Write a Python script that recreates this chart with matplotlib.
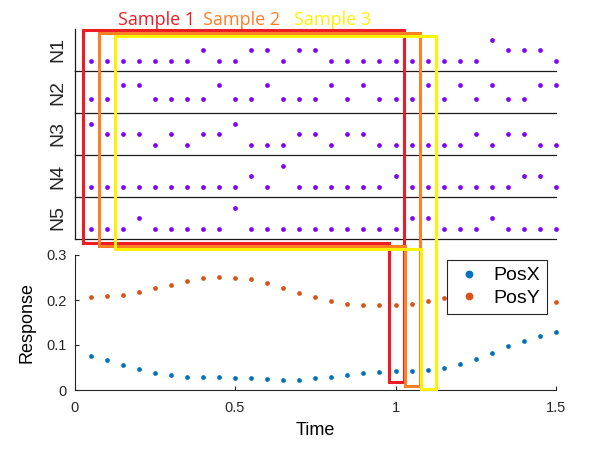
import matplotlib
matplotlib.use("Agg")
import matplotlib.pyplot as plt
from matplotlib.transforms import blended_transform_factory
from matplotlib.lines import Line2D

# time axis (s)
time = [0.05, 0.10, 0.15, 0.20, 0.25, 0.30, 0.35, 0.40, 0.45, 0.50,
        0.55, 0.60, 0.65, 0.70, 0.75, 0.80, 0.85, 0.90, 0.95, 1.00,
        1.05, 1.10, 1.15, 1.20, 1.25, 1.30, 1.35, 1.40, 1.45, 1.50]

# neuron responses
n1 = [1, 1, 1, 1, 1, 1, 1, 2, 1, 1, 2, 2, 1, 2, 2, 1, 1, 1, 1, 1, 1, 1, 1, 1, 1, 3, 2, 2, 2, 1]
n2 = [1, 1, 2, 2, 1, 1, 1, 1, 2, 1, 1, 2, 1, 1, 1, 2, 1, 2, 1, 1, 1, 2, 1, 2, 1, 2, 1, 1, 2, 2]
n3 = [3, 2, 2, 2, 1, 2, 1, 2, 2, 3, 1, 1, 1, 2, 2, 1, 2, 2, 1, 1, 1, 1, 1, 1, 2, 1, 2, 2, 1, 1]
n4 = [1, 1, 1, 1, 1, 1, 1, 1, 1, 1, 2, 1, 3, 1, 1, 1, 1, 1, 1, 2, 1, 1, 1, 1, 1, 1, 1, 2, 2, 1]
n5 = [1, 1, 1, 2, 1, 1, 1, 1, 1, 3, 1, 1, 1, 1, 1, 1, 1, 1, 1, 1, 2, 2, 1, 1, 1, 2, 1, 1, 1, 1]
neurons = [n1, n2, n3, n4, n5]
neuron_names = ["N1", "N2", "N3", "N4", "N5"]

# decoded position
posx = [0.076, 0.066, 0.056, 0.046, 0.038, 0.033, 0.030, 0.028, 0.028, 0.027,
        0.026, 0.024, 0.023, 0.023, 0.026, 0.030, 0.034, 0.038, 0.040, 0.042,
        0.042, 0.044, 0.049, 0.058, 0.069, 0.083, 0.097, 0.110, 0.121, 0.128]
posy = [0.207, 0.208, 0.212, 0.218, 0.226, 0.234, 0.242, 0.248, 0.251, 0.250,
        0.246, 0.237, 0.227, 0.216, 0.206, 0.198, 0.192, 0.190, 0.189, 0.189,
        0.192, 0.198, 0.205, 0.210, 0.212, 0.211, 0.208, 0.203, 0.198, 0.195]

# sliding windows: (first index, last index) into time
samples = [(0, 19), (1, 20), (2, 21)]
sample_names = ["Sample 1", "Sample 2", "Sample 3"]
sample_colors = ["#ED1C24", "#FF7F27", "#FFF200"]

W, H = 595, 459
fig = plt.figure(figsize=(W / 100, H / 100), dpi=100)
plt.rcParams['font.family'] = ['Liberation Sans', 'DejaVu Sans']

left = 74.5 / W
width = (556 - 74.5) / W
row_h = 42 / H
top_bottom = 1 - 239 / H

for i, (vals, name) in enumerate(zip(neurons, neuron_names)):
    ax = fig.add_axes([left, top_bottom + (4 - i) * row_h, width, row_h])
    ax.patch.set_visible(False)
    ax.plot(time, vals, 'o', color='#8000FF', ms=3.4, mec='none', clip_on=False)
    ax.set_xlim(0, 1.5)
    ax.set_ylim(0, max(vals) + 1)
    ax.set_xticks([])
    ax.set_yticks([])
    for s in ['top', 'right']:
        ax.spines[s].set_visible(False)
    for s in ['left', 'bottom']:
        ax.spines[s].set_color('#1a1a1a')
        ax.spines[s].set_linewidth(0.9)
    ax.set_ylabel(name, fontsize=14, labelpad=6, color='#262626')

axb = fig.add_axes([left, 1 - 390 / H, width, (390 - 255) / H])
axb.plot(time, posx, 'o', color='#0072BD', ms=3.4, mec='none', label='PosX', clip_on=False)
axb.plot(time, posy, 'o', color='#D95319', ms=3.4, mec='none', label='PosY', clip_on=False)
axb.set_xlim(0, 1.5)
axb.set_ylim(0, 0.3)
axb.set_xticks([0, 0.5, 1, 1.5])
axb.set_xticklabels(['0', '0.5', '1', '1.5'])
axb.set_yticks([0, 0.1, 0.2, 0.3])
axb.set_yticklabels(['0', '0.1', '0.2', '0.3'])
axb.tick_params(direction='in', length=3, width=0.8, labelsize=10.5,
                colors='#262626')
axb.tick_params(axis='x', pad=8)
axb.tick_params(axis='y', pad=5.5)
for s in ['top', 'right']:
    axb.spines[s].set_visible(False)
for s in ['left', 'bottom']:
    axb.spines[s].set_color('#262626')
    axb.spines[s].set_linewidth(0.8)
axb.set_xlabel('Time', fontsize=13, labelpad=5)
axb.set_ylabel('Response', fontsize=13, labelpad=8)
leg = axb.legend(loc='upper left', bbox_to_anchor=(0.773, 0.963),
                 borderaxespad=0, fontsize=14, markerscale=1.65,
                 fancybox=False, framealpha=1, edgecolor='#262626',
                 handlelength=1.55, handletextpad=0.5, borderpad=0.35,
                 labelspacing=0.25)
leg.get_frame().set_linewidth(0.8)

# sample window outlines, x in data units, y in figure pixels
top_px = [30.2, 33.2, 36.2]
mid_px = [243.0, 245.8, 248.8]
low_px = [382.0, 386.0, 388.5]
trans = blended_transform_factory(axb.transData, fig.transFigure)
for j, (a, b) in enumerate(samples):
    x0 = time[a] - 0.024
    x1 = time[b] + 0.025
    xn = time[b] - 0.02
    yt = 1 - top_px[j] / H
    ym = 1 - mid_px[j] / H
    yb = 1 - low_px[j] / H
    fig.add_artist(Line2D([x0, x1, x1, xn, xn, x0, x0],
                          [yt, yt, yb, yb, ym, ym, yt],
                          transform=trans, color=sample_colors[j], lw=2.2,
                          solid_joinstyle='miter', zorder=5 + j))

title_x = [157, 241.5, 332.5]
for j in range(3):
    fig.text(title_x[j] / W, 1 - 25 / H, sample_names[j], color=sample_colors[j],
             fontsize=13, ha='center', va='baseline', family=['Open Sans', 'DejaVu Sans'])

fig.savefig('out.png', dpi=100)
